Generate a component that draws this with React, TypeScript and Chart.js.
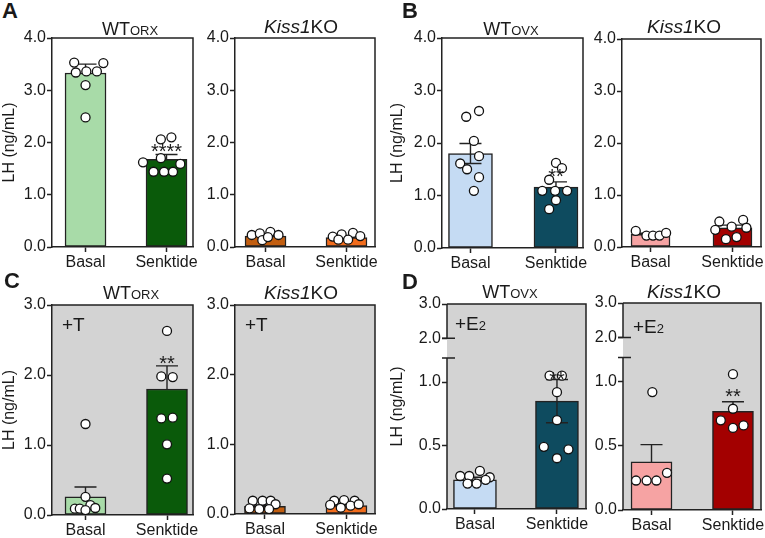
import React, { useEffect, useRef } from 'react';
import { Chart, registerables } from 'chart.js';

Chart.register(...registerables);

const FONT = "'Liberation Sans', Arial, Helvetica, sans-serif";
const INK = '#1a1a1a';
const GRAY = '#d3d3d3';
Chart.defaults.font.family = FONT;
Chart.defaults.color = INK;

// ---------- categories & axis ticks ----------
const CATEGORIES = ['Basal', 'Senktide'];
const TICKS_0_4 = [0, 1, 2, 3, 4];
const TICKS_0_3 = [0, 1, 2, 3];
const TICKS_BROKEN = [0, 0.5, 1.0, 2.0, 3.0];

// broken axis of panel D: lower segment 0 – 1.19, upper segment 2.0 – 3.0 (compressed)
const BREAK_LOW = 1.19;
const BREAK_HIGH = 2.0;
const UPPER_BASE = 1.345;
const UPPER_RATIO = 0.27;
const brokenToAxis = (v: number) => (v <= BREAK_LOW ? v : UPPER_BASE + (v - BREAK_HIGH) * UPPER_RATIO);

// ---------- Panel A : WT ORX ----------
const A_WT_MEAN = [3.33, 1.68];
const A_WT_SEM = [0.17, 0.09];
const A_WT_BASAL = [3.53, 3.52, 3.34, 3.36, 3.36, 3.10, 2.48];
const A_WT_BASAL_JITTER = [-0.14, 0.22, -0.12, 0.01, 0.14, 0.0, 0.0];
const A_WT_SENK = [2.06, 2.10, 1.62, 1.70, 1.59, 1.44, 1.44, 1.44];
const A_WT_SENK_JITTER = [-0.07, 0.06, -0.29, -0.07, 0.17, -0.16, -0.03, 0.08];
const A_WT_STARS = ['', '****'];
const A_WT_STAR_Y = [0, 1.93];

// ---------- Panel A : Kiss1 KO ----------
const A_KO_MEAN = [0.21, 0.18];
const A_KO_SEM = [0.02, 0.02];
const A_KO_BASAL = [0.23, 0.26, 0.29, 0.23, 0.13, 0.19];
const A_KO_BASAL_JITTER = [-0.17, -0.07, 0.06, 0.16, -0.04, 0.03];
const A_KO_SENK = [0.20, 0.24, 0.27, 0.21, 0.14, 0.14];
const A_KO_SENK_JITTER = [-0.17, -0.06, 0.08, 0.17, -0.10, 0.02];

// ---------- Panel B : WT OVX ----------
const B_WT_MEAN = [1.80, 1.16];
const B_WT_SEM = [0.19, 0.10];
const B_WT_BASAL = [2.50, 2.61, 2.04, 1.61, 1.75, 1.50, 1.35, 1.09];
const B_WT_BASAL_JITTER = [-0.05, 0.10, 0.04, -0.12, 0.10, -0.04, 0.10, 0.04];
const B_WT_SENK = [1.62, 1.52, 1.30, 1.09, 1.09, 1.09, 0.91, 0.74];
const B_WT_SENK_JITTER = [0.0, 0.07, -0.08, -0.16, -0.01, 0.13, 0.0, -0.08];
const B_WT_STARS = ['', '**'];
const B_WT_STAR_Y = [0, 1.45];

// ---------- Panel B : Kiss1 KO ----------
const B_KO_MEAN = [0.245, 0.37];
const B_KO_SEM = [0.02, 0.05];
const B_KO_BASAL = [0.31, 0.22, 0.22, 0.22, 0.27];
const B_KO_BASAL_JITTER = [-0.18, -0.05, 0.03, 0.11, 0.19];
const B_KO_SENK = [0.49, 0.52, 0.33, 0.39, 0.37, 0.15, 0.19];
const B_KO_SENK_JITTER = [-0.16, 0.13, -0.21, -0.01, 0.17, -0.08, 0.05];

// ---------- Panel C : WT ORX + T ----------
const C_WT_MEAN = [0.26, 1.80];
const C_WT_SEM = [0.14, 0.33];
const C_WT_BASAL = [1.30, 0.26, 0.09, 0.09, 0.14, 0.10, 0.07];
const C_WT_BASAL_JITTER = [0.0, 0.0, -0.13, -0.07, 0.06, 0.12, 0.0];
const C_WT_SENK = [2.63, 1.98, 1.97, 1.38, 1.39, 1.01, 0.52];
const C_WT_SENK_JITTER = [0.0, -0.07, 0.07, -0.07, 0.07, 0.0, 0.0];
const C_WT_STARS = ['', '**'];
const C_WT_STAR_Y = [0, 2.24];

// ---------- Panel C : Kiss1 KO + T ----------
const C_KO_MEAN = [0.11, 0.12];
const C_KO_SEM = [0.02, 0.02];
const C_KO_BASAL = [0.19, 0.19, 0.19, 0.14, 0.08, 0.07, 0.07];
const C_KO_BASAL_JITTER = [-0.15, -0.03, 0.07, 0.13, -0.19, -0.07, 0.05];
const C_KO_SENK = [0.19, 0.20, 0.19, 0.13, 0.09, 0.12, 0.14];
const C_KO_SENK_JITTER = [-0.15, -0.03, 0.10, -0.20, -0.07, 0.05, 0.15];

// ---------- Panel D : WT OVX + E2 ----------
const D_WT_MEAN = [0.23, 0.85];
const D_WT_SEM = [0.02, 0.17];
const D_WT_BASAL = [0.26, 0.26, 0.30, 0.25, 0.20, 0.20, 0.23];
const D_WT_BASAL_JITTER = [-0.18, -0.07, 0.06, 0.18, -0.09, 0.02, 0.13];
const D_WT_SENK = [1.05, 1.05, 0.92, 0.70, 0.49, 0.47, 0.40];
const D_WT_SENK_JITTER = [-0.09, 0.06, 0.0, 0.0, -0.16, 0.14, 0.0];
const D_WT_STARS = ['', '**'];
const D_WT_STAR_Y = [0, 1.055];

// ---------- Panel D : Kiss1 KO + E2 ----------
const D_KO_MEAN = [0.375, 0.77];
const D_KO_SEM = [0.135, 0.075];
const D_KO_BASAL = [0.92, 0.23, 0.23, 0.23, 0.29];
const D_KO_BASAL_JITTER = [0.01, -0.19, -0.06, 0.06, 0.19];
const D_KO_SENK = [1.06, 0.79, 0.70, 0.66, 0.64];
const D_KO_SENK_JITTER = [0.0, 0.0, -0.15, 0.13, 0.0];
const D_KO_STARS = ['', '**'];
const D_KO_STAR_Y = [0, 0.92];

// ---------- colours ----------
const WT_MALE_COLORS = ['#a8dba8', '#0a5a0a'];
const KO_MALE_COLORS = ['#c25e10', '#f26c1c'];
const WT_FEMALE_COLORS = ['#c5dbf3', '#0e4b5f'];
const KO_FEMALE_COLORS = ['#f6a3a3', '#a30000'];

const PAD_T = 12;
const PAD_R = 10;
const XH = 28;

type PanelDef = {
  l: number; t: number; r: number; b: number;
  yw: number; xMin: number; xMax: number; barW: number;
  yTicks: number[]; broken?: boolean; yTitle?: boolean; gray?: boolean;
  means: number[]; sems: number[]; errBoth: boolean[];
  groups: { values: number[]; jitter: number[] }[];
  colors: string[];
  stars?: string[]; starY?: number[];
};

const PANELS: PanelDef[] = [
  {
    l: 52, t: 38, r: 193, b: 247, yw: 52, xMin: -0.414, xMax: 1.327, barW: 41,
    yTicks: TICKS_0_4, yTitle: true,
    means: A_WT_MEAN, sems: A_WT_SEM, errBoth: [false, false],
    groups: [{ values: A_WT_BASAL, jitter: A_WT_BASAL_JITTER }, { values: A_WT_SENK, jitter: A_WT_SENK_JITTER }],
    colors: WT_MALE_COLORS, stars: A_WT_STARS, starY: A_WT_STAR_Y,
  },
  {
    l: 235, t: 38, r: 375, b: 247, yw: 39, xMin: -0.377, xMax: 1.352, barW: 41,
    yTicks: TICKS_0_4,
    means: A_KO_MEAN, sems: A_KO_SEM, errBoth: [false, false],
    groups: [{ values: A_KO_BASAL, jitter: A_KO_BASAL_JITTER }, { values: A_KO_SENK, jitter: A_KO_SENK_JITTER }],
    colors: KO_MALE_COLORS,
  },
  {
    l: 442, t: 38, r: 583, b: 248, yw: 54, xMin: -0.333, xMax: 1.316, barW: 44,
    yTicks: TICKS_0_4, yTitle: true,
    means: B_WT_MEAN, sems: B_WT_SEM, errBoth: [true, false],
    groups: [{ values: B_WT_BASAL, jitter: B_WT_BASAL_JITTER }, { values: B_WT_SENK, jitter: B_WT_SENK_JITTER }],
    colors: WT_FEMALE_COLORS, stars: B_WT_STARS, starY: B_WT_STAR_Y,
  },
  {
    l: 622, t: 39, r: 761, b: 247, yw: 37, xMin: -0.348, xMax: 1.348, barW: 39,
    yTicks: TICKS_0_4,
    means: B_KO_MEAN, sems: B_KO_SEM, errBoth: [false, false],
    groups: [{ values: B_KO_BASAL, jitter: B_KO_BASAL_JITTER }, { values: B_KO_SENK, jitter: B_KO_SENK_JITTER }],
    colors: KO_FEMALE_COLORS,
  },
  {
    l: 52, t: 305, r: 193, b: 515, yw: 52, xMin: -0.411, xMax: 1.319, barW: 41,
    yTicks: TICKS_0_3, yTitle: true, gray: true,
    means: C_WT_MEAN, sems: C_WT_SEM, errBoth: [false, false],
    groups: [{ values: C_WT_BASAL, jitter: C_WT_BASAL_JITTER }, { values: C_WT_SENK, jitter: C_WT_SENK_JITTER }],
    colors: WT_MALE_COLORS, stars: C_WT_STARS, starY: C_WT_STAR_Y,
  },
  {
    l: 235, t: 305, r: 375, b: 514, yw: 39, xMin: -0.368, xMax: 1.35, barW: 41,
    yTicks: TICKS_0_3, gray: true,
    means: C_KO_MEAN, sems: C_KO_SEM, errBoth: [false, false],
    groups: [{ values: C_KO_BASAL, jitter: C_KO_BASAL_JITTER }, { values: C_KO_SENK, jitter: C_KO_SENK_JITTER }],
    colors: KO_MALE_COLORS,
  },
  {
    l: 447, t: 304, r: 586, b: 509, yw: 59, xMin: -0.341, xMax: 1.354, barW: 43,
    yTicks: TICKS_BROKEN, broken: true, yTitle: true, gray: true,
    means: D_WT_MEAN, sems: D_WT_SEM, errBoth: [false, true],
    groups: [{ values: D_WT_BASAL, jitter: D_WT_BASAL_JITTER }, { values: D_WT_SENK, jitter: D_WT_SENK_JITTER }],
    colors: WT_FEMALE_COLORS, stars: D_WT_STARS, starY: D_WT_STAR_Y,
  },
  {
    l: 623, t: 303, r: 761, b: 510, yw: 37, xMin: -0.35, xMax: 1.344, barW: 41,
    yTicks: TICKS_BROKEN, broken: true, gray: true,
    means: D_KO_MEAN, sems: D_KO_SEM, errBoth: [false, false],
    groups: [{ values: D_KO_BASAL, jitter: D_KO_BASAL_JITTER }, { values: D_KO_SENK, jitter: D_KO_SENK_JITTER }],
    colors: KO_FEMALE_COLORS, stars: D_KO_STARS, starY: D_KO_STAR_Y,
  },
];

function Panel({ def }: { def: PanelDef }) {
  const ref = useRef<HTMLCanvasElement | null>(null);
  const left = def.l - def.yw;
  const top = def.t - PAD_T;
  const width = def.r - left + PAD_R;
  const height = def.b - top + XH;

  useEffect(() => {
    const canvas = ref.current;
    if (!canvas) return;
    const toAxis = (v: number) => (def.broken ? brokenToAxis(v) : v);
    const yMax = toAxis(def.yTicks[def.yTicks.length - 1]);

    const decor = {
      id: 'decor',
      beforeDraw(chart: any) {
        if (!def.gray) return;
        const { ctx, chartArea: a } = chart;
        ctx.save();
        ctx.fillStyle = GRAY;
        ctx.fillRect(a.left, a.top, a.right - a.left, a.bottom - a.top);
        ctx.restore();
      },
      afterDatasetDraw(chart: any, args: any) {
        if (args.index !== 0) return;
        const { ctx } = chart;
        const xs = chart.scales.x;
        const ys = chart.scales.y;
        ctx.save();
        ctx.strokeStyle = '#222';
        ctx.lineWidth = 1.4;
        const cap = 11;
        def.means.forEach((m, i) => {
          const s = def.sems[i];
          const x = xs.getPixelForValue(i);
          const yT = ys.getPixelForValue(m + s);
          const yB = ys.getPixelForValue(def.errBoth[i] ? m - s : m);
          ctx.beginPath();
          ctx.moveTo(x, yT);
          ctx.lineTo(x, yB);
          ctx.moveTo(x - cap, yT);
          ctx.lineTo(x + cap, yT);
          if (def.errBoth[i]) {
            ctx.moveTo(x - cap, yB);
            ctx.lineTo(x + cap, yB);
          }
          ctx.stroke();
        });
        ctx.restore();
      },
      afterDatasetsDraw(chart: any) {
        if (!def.stars || !def.starY) return;
        const { ctx } = chart;
        const xs = chart.scales.x;
        const ys = chart.scales.y;
        const fs = 20;
        ctx.save();
        ctx.fillStyle = INK;
        ctx.font = `${fs}px ${FONT}`;
        ctx.textAlign = 'center';
        ctx.textBaseline = 'alphabetic';
        def.stars.forEach((s, i) => {
          if (!s) return;
          const x = xs.getPixelForValue(i);
          const y = ys.getPixelForValue(def.starY![i]);
          ctx.fillText(s, x, y + 0.57 * fs);
        });
        ctx.restore();
      },
      afterDraw(chart: any) {
        const { ctx, chartArea: a } = chart;
        ctx.save();
        ctx.strokeStyle = '#222';
        ctx.lineWidth = 1.5;
        ctx.beginPath();
        ctx.moveTo(a.left, a.top);
        ctx.lineTo(a.right, a.top);
        ctx.lineTo(a.right, a.bottom);
        ctx.stroke();
        if (def.broken) {
          const ys = chart.scales.y;
          const y2 = ys.getPixelForValue(toAxis(BREAK_HIGH));
          const yb = ys.getPixelForValue(BREAK_LOW);
          ctx.beginPath();
          ctx.moveTo(a.left, a.top);
          ctx.lineTo(a.left, y2);
          ctx.moveTo(a.left, yb);
          ctx.lineTo(a.left, a.bottom);
          ctx.moveTo(a.left - 5, y2);
          ctx.lineTo(a.left + 8, y2);
          ctx.moveTo(a.left - 5, yb);
          ctx.lineTo(a.left + 8, yb);
          ctx.stroke();
        }
        ctx.restore();
      },
    };

    const points: { x: number; y: number }[] = [];
    def.groups.forEach((g, gi) => {
      g.values.forEach((v, j) => points.push({ x: gi + g.jitter[j], y: v }));
    });

    const chart = new Chart(canvas, {
      type: 'bar',
      data: {
        datasets: [
          {
            type: 'bar',
            data: def.means.map((m, i) => ({ x: i, y: m })),
            backgroundColor: def.colors,
            borderColor: '#222',
            borderWidth: 1.5,
            borderSkipped: false,
            barThickness: def.barW,
            order: 2,
          } as any,
          {
            type: 'scatter',
            data: points,
            pointRadius: 4.5,
            pointBackgroundColor: '#ffffff',
            pointBorderColor: '#111',
            pointBorderWidth: 1.3,
            order: 1,
          } as any,
        ],
      },
      options: {
        responsive: false,
        animation: false,
        events: [],
        layout: { padding: { top: PAD_T, right: PAD_R, left: 0, bottom: 0 } },
        plugins: { legend: { display: false }, tooltip: { enabled: false }, title: { display: false } },
        scales: {
          x: {
            type: 'linear',
            min: def.xMin,
            max: def.xMax,
            offset: false,
            afterBuildTicks: (s: any) => {
              s.ticks = CATEGORIES.map((_, i) => ({ value: i }));
            },
            afterFit: (s: any) => {
              s.height = XH;
              s.paddingLeft = 0;
              s.paddingRight = 0;
            },
            ticks: {
              callback: (v: any) => CATEGORIES[Math.round(Number(v))] ?? '',
              font: { family: FONT, size: 16 },
              color: INK,
              padding: 1,
              maxRotation: 0,
              autoSkip: false,
            },
            grid: { display: true, drawOnChartArea: false, drawTicks: true, tickLength: 5, tickColor: '#222', tickWidth: 1.5, offset: false },
            border: { display: true, color: '#222', width: 1.5 },
          } as any,
          y: {
            type: 'linear',
            min: 0,
            max: yMax,
            afterBuildTicks: (s: any) => {
              s.ticks = def.yTicks.map((v) => ({ value: toAxis(v) }));
            },
            afterFit: (s: any) => {
              s.width = def.yw;
              s.paddingTop = 0;
              s.paddingBottom = 0;
            },
            ticks: {
              callback: (_v: any, i: number) => def.yTicks[i].toFixed(1),
              font: { family: FONT, size: 16 },
              color: INK,
              padding: 1,
              autoSkip: false,
            },
            grid: { display: true, drawOnChartArea: false, drawTicks: true, tickLength: 5, tickColor: '#222', tickWidth: 1.5 },
            border: { display: !def.broken, color: '#222', width: 1.5 },
            title: def.yTitle
              ? { display: true, text: 'LH (ng/mL)', font: { family: FONT, size: 16 }, color: INK, padding: { top: 0, bottom: 0 } }
              : { display: false },
          } as any,
        },
      },
      plugins: [decor],
    });
    return () => chart.destroy();
  }, [def]);

  return (
    <canvas
      ref={ref}
      width={width}
      height={height}
      style={{ position: 'absolute', left, top, width, height }}
    />
  );
}

function Txt({ x, base, size, center, bold, children }: { x: number; base: number; size: number; center?: boolean; bold?: boolean; children: React.ReactNode }) {
  return (
    <div
      style={{
        position: 'absolute',
        left: x,
        top: base - 0.8465 * size,
        fontSize: size,
        lineHeight: `${size}px`,
        fontWeight: bold ? 700 : 400,
        whiteSpace: 'nowrap',
        transform: center ? 'translateX(-50%)' : undefined,
        color: INK,
      }}
    >
      {children}
    </div>
  );
}

const small = (t: string, size: number) => <span style={{ fontSize: size, lineHeight: 1 }}>{t}</span>;
const kiss = (
  <>
    <i>Kiss1</i>KO
  </>
);

export default function App() {
  return (
    <div
      style={{
        position: 'fixed',
        left: 0,
        top: 0,
        width: 765,
        height: 538,
        background: '#ffffff',
        overflow: 'hidden',
        fontFamily: FONT,
      }}
    >
      {PANELS.map((p, i) => (
        <Panel key={i} def={p} />
      ))}

      {/* panel letters */}
      <Txt x={2} base={19} size={22} bold>A</Txt>
      <Txt x={402} base={19} size={22} bold>B</Txt>
      <Txt x={4} base={289} size={22} bold>C</Txt>
      <Txt x={402} base={290} size={22} bold>D</Txt>

      {/* titles row 1 */}
      <Txt x={130} base={35} size={18} center>WT{small('ORX', 13)}</Txt>
      <Txt x={301} base={33} size={19} center>{kiss}</Txt>
      <Txt x={511} base={35} size={18} center>WT{small('OVX', 13)}</Txt>
      <Txt x={684} base={33} size={19} center>{kiss}</Txt>

      {/* titles row 2 */}
      <Txt x={131} base={299} size={18} center>WT{small('ORX', 13)}</Txt>
      <Txt x={301} base={299} size={19} center>{kiss}</Txt>
      <Txt x={510} base={298} size={18} center>WT{small('OVX', 13)}</Txt>
      <Txt x={684} base={298} size={19} center>{kiss}</Txt>

      {/* treatment labels */}
      <Txt x={62} base={331} size={19}>+T</Txt>
      <Txt x={245} base={331} size={19}>+T</Txt>
      <Txt x={455} base={330} size={19}>+E{small('2', 13)}</Txt>
      <Txt x={633} base={333} size={19}>+E{small('2', 13)}</Txt>
    </div>
  );
}
